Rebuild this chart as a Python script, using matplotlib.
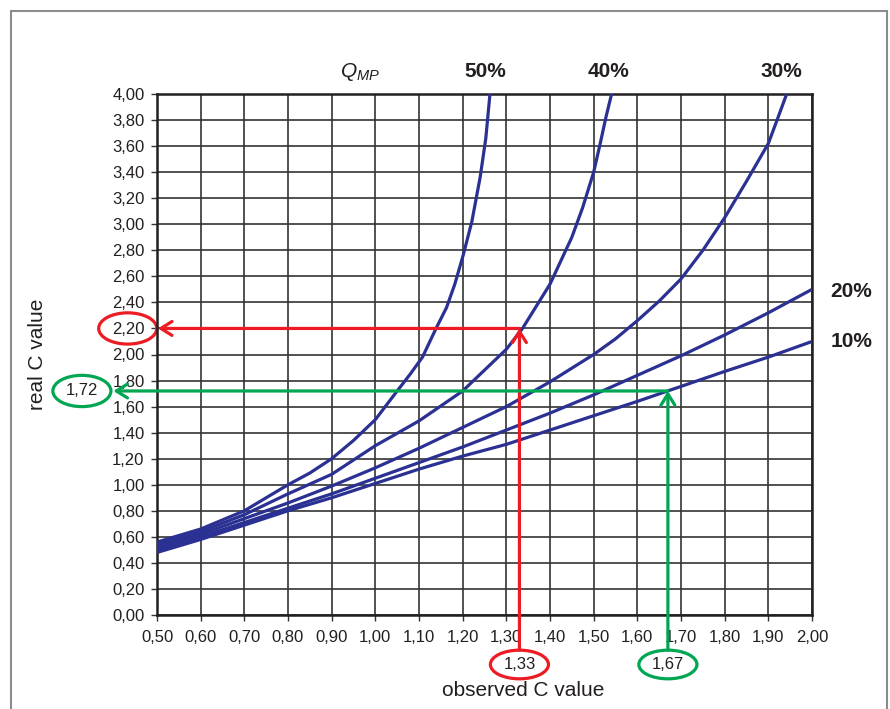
import matplotlib
matplotlib.use("Agg")
import matplotlib.pyplot as plt
from matplotlib.patches import Ellipse, Rectangle
from matplotlib.ticker import FuncFormatter

# curves (observed C -> real C) for each Q_MP
q_labels = ["10%", "20%", "30%", "40%", "50%"]
x10 = [0.5, 0.6, 0.7, 0.8, 0.9, 1.0, 1.1, 1.2, 1.3, 1.4, 1.5, 1.6, 1.7, 1.8, 1.9, 2.0]
y10 = [0.48, 0.58, 0.69, 0.80, 0.90, 1.01, 1.12, 1.22, 1.31, 1.42, 1.53, 1.64, 1.755, 1.87, 1.98, 2.10]
x20 = [0.5, 0.6, 0.7, 0.8, 0.9, 1.0, 1.1, 1.2, 1.3, 1.4, 1.5, 1.6, 1.7, 1.8, 1.9, 2.0]
y20 = [0.50, 0.60, 0.71, 0.82, 0.93, 1.05, 1.17, 1.29, 1.42, 1.55, 1.69, 1.84, 1.99, 2.15, 2.32, 2.50]
x30 = [0.5, 0.6, 0.7, 0.8, 0.9, 1.0, 1.1, 1.2, 1.3, 1.4, 1.5, 1.55, 1.6, 1.65, 1.7, 1.75, 1.8, 1.85,
       1.9, 1.92, 1.942]
y30 = [0.52, 0.62, 0.74, 0.86, 0.99, 1.13, 1.28, 1.44, 1.60, 1.79, 2.00, 2.12, 2.26, 2.41, 2.58, 2.80,
       3.05, 3.33, 3.62, 3.80, 4.00]
x40 = [0.5, 0.6, 0.7, 0.8, 0.9, 1.0, 1.1, 1.2, 1.3, 1.337, 1.4, 1.45, 1.475, 1.5, 1.515, 1.528, 1.541]
y40 = [0.54, 0.64, 0.77, 0.93, 1.08, 1.30, 1.49, 1.72, 2.04, 2.20, 2.54, 2.90, 3.13, 3.40, 3.62, 3.82, 4.00]
x50 = [0.5, 0.6, 0.7, 0.8, 0.85, 0.9, 0.95, 1.0, 1.05, 1.08, 1.108, 1.139, 1.163, 1.182, 1.201,
       1.221, 1.24, 1.253, 1.2625]
y50 = [0.56, 0.66, 0.80, 1.00, 1.09, 1.20, 1.34, 1.50, 1.72, 1.85, 1.98, 2.20, 2.36, 2.54, 2.76,
       3.02, 3.36, 3.66, 4.00]

# worked examples: observed -> real
red_obs, red_real = 1.33, 2.20
green_obs, green_real = 1.67, 1.72

BLUE = "#2b3192"
RED = "#ed1c24"
GREEN = "#00a651"
INK = "#231f20"

plt.rcParams["font.family"] = ["Liberation Sans", "DejaVu Sans"]
plt.rcParams["mathtext.fontset"] = "custom"
plt.rcParams["mathtext.it"] = "Liberation Sans:italic"
plt.rcParams["mathtext.rm"] = "Liberation Sans"

fig = plt.figure(figsize=(8.9, 7.09), dpi=100)
ax = fig.add_axes([157 / 890, 1 - 615 / 709, 655 / 890, 521 / 709])

# outer frame
fig.patches.append(Rectangle((11 / 890, -0.1), 876 / 890, 1.1 - 11 / 709, transform=fig.transFigure,
                             fill=False, edgecolor="#8c8c8c", lw=1.5))

for xs, ys in [(x10, y10), (x20, y20), (x30, y30), (x40, y40), (x50, y50)]:
    ax.plot(xs, ys, color=BLUE, lw=2.3, solid_joinstyle="round", zorder=4)

ax.set_xlim(0.5, 2.0)
ax.set_ylim(0, 4.0)
ax.set_xticks([0.5 + 0.1 * i for i in range(16)])
ax.set_yticks([0.2 * i for i in range(21)])
fmt = FuncFormatter(lambda v, p: f"{v:.2f}".replace(".", ","))
ax.xaxis.set_major_formatter(fmt)
ax.yaxis.set_major_formatter(fmt)
ax.tick_params(direction="out", length=4, width=1, color="#333333", labelsize=12, labelcolor=INK, pad=5)
ax.tick_params(axis="x", pad=6.5)
ax.grid(True, color="#333333", lw=1.2)
for s in ax.spines.values():
    s.set_linewidth(1.8)
    s.set_color(INK)
ax.set_axisbelow(True)

ax.set_xlabel("observed C value", fontsize=15, color=INK)
ax.xaxis.set_label_coords((523 - 157) / 655, (615 - 681) / 521)
ax.set_ylabel("real C value", fontsize=15, color=INK)
ax.yaxis.set_label_coords((47 - 157) / 655, 0.5)

# curve labels
ax.text(0.965, 4.17, r"$Q_{MP}$", fontsize=15, ha="center", va="center", color=INK)
for lab, xx, yy in [("50%", 1.251, 4.17), ("40%", 1.533, 4.17), ("30%", 1.931, 4.17),
                    ("20%", 2.09, 2.48), ("10%", 2.09, 2.10)]:
    ax.text(xx, yy, lab, fontsize=15, fontweight="bold", ha="center", va="center",
            color=INK, clip_on=False)


def example(obs, real, color, tip_x, label_x):
    kw = dict(arrowstyle="->,head_length=0.8,head_width=0.5", color=color, lw=2.3, shrinkA=0, shrinkB=0)
    ax.annotate("", xy=(obs, real), xytext=(obs, -0.27), arrowprops=kw, annotation_clip=False, zorder=5)
    ax.annotate("", xy=(tip_x, real), xytext=(obs, real), arrowprops=kw, annotation_clip=False, zorder=5)
    # ellipse round the observed value under the x axis
    ax.add_patch(Ellipse((obs, -0.38), 0.133, 0.22, fill=False, edgecolor=color, lw=2.3, clip_on=False))
    ax.text(obs, -0.38, f"{obs:.2f}".replace(".", ","), fontsize=12, ha="center", va="center",
            color=INK, clip_on=False)
    # ellipse round the real value left of the y axis
    ax.add_patch(Ellipse((label_x, real), 0.133, 0.24, fill=False, edgecolor=color, lw=2.3, clip_on=False))


example(red_obs, red_real, RED, 0.502, 0.433)
example(green_obs, green_real, GREEN, 0.40, 0.328)
ax.text(0.328, 1.72, f"{green_real:.2f}".replace(".", ","), fontsize=12, ha="center", va="center",
        color=INK, clip_on=False)

fig.savefig("out.png", dpi=100)
